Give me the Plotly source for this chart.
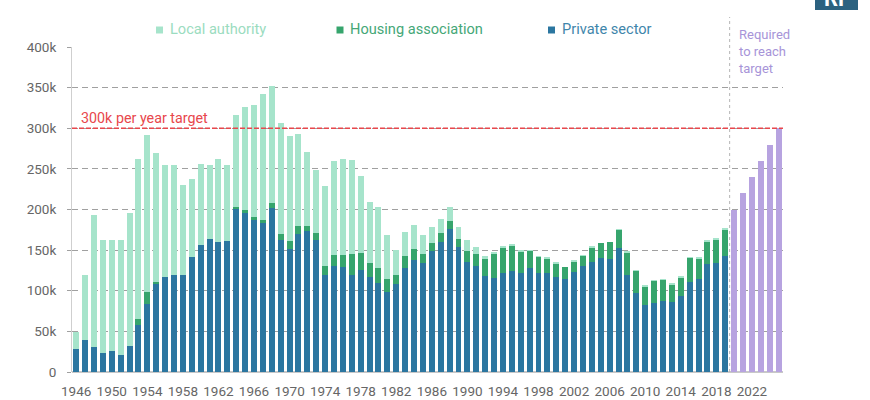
import plotly.graph_objects as go

years = list(range(1946, 2020))
private_sector = [28, 39, 31, 24, 25.5, 21, 32, 58, 84, 109,
                  117, 120, 120, 141, 156, 164, 160, 161, 201, 196,
                  187, 183, 202, 162, 152, 170, 173, 162, 120, 130,
                  129, 120, 126, 117, 109, 98, 108, 128, 138, 134.5,
                  148.5, 160, 176, 153.5, 135.5, 130.5, 118.5, 115.5, 122, 124.5,
                  121.5, 128, 122, 122, 117, 114, 122.5, 130, 136, 140,
                  138.5, 152.5, 120, 97.5, 83, 85, 88, 86.5, 93, 110.5,
                  115, 132.5, 134.5, 143]
housing_association = [0, 0, 0, 0, 0, 0, 0, 7, 14, 2,
                       0, 0, 0, 0, 0, 0, 0, 0, 2, 3,
                       4, 4, 6, 8, 9, 10, 7, 9, 10, 14,
                       15, 25, 21, 17, 19, 16, 11, 15, 14, 11,
                       10, 11.5, 10, 10, 14, 15, 21, 30.5, 31.5, 31.5,
                       27, 21.5, 20, 18, 17, 15, 14, 13.5, 17.5, 18.5,
                       21.5, 23, 27.5, 27, 22.5, 27, 25.5, 21.5, 23, 30,
                       24.5, 28.5, 28, 32.5]
local_authority = [21, 81, 162, 138, 137, 141, 164, 197.5, 194, 158,
                   138, 135, 110, 96, 100, 91, 102, 94, 113, 127,
                   138, 155, 144, 136, 130, 113, 91, 78, 99, 116,
                   118, 116, 94, 75, 75, 55, 31, 29, 29, 23.5,
                   19.5, 16.5, 16.5, 15, 13, 8.5, 3.5, 1, 1, 1,
                   1, 0.5, 0.5, 0.5, 0.5, 0, 0.5, 0.5, 0.5, 0,
                   0, 0.5, 0.5, 0.5, 0.5, 0.5, 0.5, 0.5, 1, 1,
                   1, 1, 2, 1.5]
required_years = [2020, 2021, 2022, 2023, 2024, 2025]
required_values = [200, 220, 240, 260, 280, 300]
target_value = 300
y_tick_values = [0, 50, 100, 150, 200, 250, 300, 350, 400]
y_tick_labels = ["0", "50k", "100k", "150k", "200k", "250k", "300k", "350k", "400k"]

C_PRIV = "#2b76a0"
C_HA = "#36a56d"
C_LA = "#a6e4cb"
C_REQ = "#b7a3e0"
C_RED = "#e8474c"
FONT = "Roboto"

# pixel layout helpers
L, R, T, B = 72, 87, 47, 28
W, H = 870, 400
PW, PH = W - L - R, H - T - B


def px_x(px):
    return (px - L) / PW


def px_y(py):
    return (H - B - py) / PH


fig = go.Figure()
fig.add_bar(x=years, y=private_sector, name="Private sector", marker_color=C_PRIV,
            marker_line_width=0, showlegend=False)
fig.add_bar(x=years, y=housing_association, name="Housing association", marker_color=C_HA,
            marker_line_width=0, showlegend=False)
fig.add_bar(x=years, y=local_authority, name="Local authority", marker_color=C_LA,
            marker_line_width=0, showlegend=False)
fig.add_bar(x=required_years, y=required_values, name="Required to reach target",
            marker_color=C_REQ, marker_line_width=0, showlegend=False)

shapes = [
    dict(type="line", xref="paper", x0=0, x1=1, yref="y", y0=target_value, y1=target_value,
         line=dict(color=C_RED, width=1.5, dash="5px,2px"), layer="above"),
    dict(type="line", xref="x", x0=2019.5, x1=2019.5, yref="paper", y0=0, y1=px_y(17),
         line=dict(color="#b5b5b5", width=1, dash="dot"), layer="above"),
    dict(type="rect", xref="paper", yref="paper", x0=px_x(815), x1=px_x(858),
         y0=px_y(10), y1=px_y(-10), fillcolor="#2c6280", line_width=0),
]

legend_items = [
    ("Local authority", C_LA, "#9bdcc0", 159.5, 168),
    ("Housing association", C_HA, "#45a777", 340, 348),
    ("Private sector", C_PRIV, "#3f86ab", 551.5, 560),
]
annotations = []
for label, sq_col, txt_col, sq_x, txt_x in legend_items:
    shapes.append(dict(type="rect", xref="paper", yref="paper",
                       xsizemode="pixel", ysizemode="pixel",
                       xanchor=px_x(sq_x), yanchor=px_y(30),
                       x0=-3.5, x1=3.5, y0=-3.5, y1=3.5,
                       fillcolor=sq_col, line_width=0))
    annotations.append(dict(text=label, xref="paper", yref="paper", x=px_x(txt_x), y=px_y(29),
                            xanchor="left", yanchor="middle", showarrow=False,
                            font=dict(family=FONT, size=14.6, color=txt_col)))

annotations += [
    dict(text="300k per year target", xref="paper", yref="y", x=px_x(79), y=target_value,
         xanchor="left", yanchor="bottom", showarrow=False, yshift=0,
         font=dict(family=FONT, size=14.3, color=C_RED)),
    dict(text="Required<br>to reach<br>target", xref="paper", yref="paper",
         x=px_x(737), y=px_y(25), xanchor="left", yanchor="top", align="left",
         showarrow=False, font=dict(family=FONT, size=13, color="#a794d8")),
    dict(text="<b>RF</b>", xref="paper", yref="paper", x=px_x(836.5), y=px_y(13),
         xanchor="center", yanchor="bottom", showarrow=False,
         font=dict(family=FONT, size=22, color="white")),
]

fig.update_layout(
    width=W, height=H,
    margin=dict(l=L, r=R, t=T, b=B, pad=0),
    paper_bgcolor="white", plot_bgcolor="white",
    barmode="stack", bargap=0.33,
    font=dict(family=FONT, size=13.5, color="#666666"),
    shapes=shapes, annotations=annotations,
    xaxis=dict(range=[1945.53, 2025.5], tickmode="linear", tick0=1946, dtick=4,
               showgrid=False, showline=False, zeroline=False, ticks="",
               ticklabelstandoff=9, automargin=False,
               tickfont=dict(family=FONT, size=13.5, color="#666666")),
    yaxis=dict(range=[0, 400], tickmode="array", tickvals=y_tick_values, ticktext=y_tick_labels,
               showgrid=True, gridcolor="#a0a0a0", gridwidth=1, griddash="6px,4px",
               showline=True, linecolor="#cfcfcf", linewidth=1,
               zeroline=True, zerolinecolor="#c8c8c8", zerolinewidth=1.5,
               ticks="outside", ticklen=4, tickcolor="#a0a0a0",
               ticklabelstandoff=8, automargin=False,
               tickfont=dict(family=FONT, size=13.5, color="#666666")),
)

fig.write_html("out.html", config={"displayModeBar": False},
               post_script="document.body.style.margin='0';document.body.style.padding='0';")
